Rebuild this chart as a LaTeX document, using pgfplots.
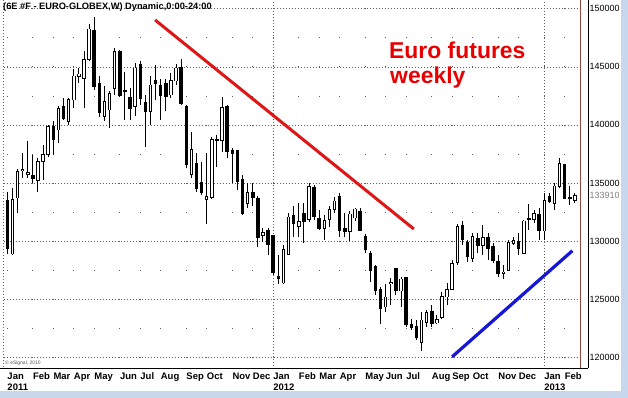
\documentclass[border=0pt]{standalone}
\usepackage{pgfplots}
\pgfplotsset{compat=1.18}
\usepackage{pgfplotstable}
\usepackage{fontspec}
\setmainfont{Liberation Sans}
\definecolor{gridc}{RGB}{95,95,95}
\definecolor{trendred}{RGB}{222,22,22}
\definecolor{textred}{RGB}{232,0,0}
\definecolor{trendblue}{RGB}{22,22,215}
\definecolor{frameblue}{RGB}{200,216,236}
\definecolor{brownline}{RGB}{150,70,60}

\pgfplotstableread{
i o h l c
0 133450 134260 128930 129360
1 128930 134550 128790 133540
2 133740 136220 132390 135930
3 136050 137570 135410 136150
4 135750 138580 135410 135850
5 135640 137430 134980 135410
6 135270 137140 134260 136850
7 136910 138290 135270 137430
8 137480 139960 137200 139840
9 139870 140310 137370 138780
10 139590 141600 138430 141400
11 141600 142320 140450 140590
12 140310 142320 140020 142180
13 142180 144770 141460 144190
14 144200 144910 143620 144350
15 144050 146350 141460 145580
16 145630 148660 145490 148230
17 148140 149290 143040 143330
18 143530 144250 140650 141110
19 140740 143330 140360 141980
20 141310 142960 139730 142670
21 143190 146640 142610 146300
22 146290 146440 142420 142560
23 142950 144570 140410 142880
24 142375 143180 140440 141450
25 141600 145300 140730 144860
26 145140 145490 141740 142320
27 141880 142610 138130 141160
28 141160 144190 140010 143410
29 143820 145140 142170 143560
30 143410 143990 140440 142550
31 143530 143990 141160 142460
32 142610 144480 142320 143820
33 143820 145200 143470 144860
34 144910 145630 141740 141880
35 141600 141740 136260 136600
36 135740 139370 135390 137850
37 136690 137560 134240 134580
38 135050 136840 133950 134180
39 133600 137560 131500 133810
40 133810 139000 133660 138710
41 138710 139140 136400 138650
42 138710 142370 137700 141450
43 141540 141740 137120 137760
44 137760 137990 134960 137560
45 137780 137840 134400 135110
46 135290 135720 132250 132400
47 133270 135000 132830 134130
48 134130 135000 132980 133790
49 133610 133840 129450 130290
50 130490 131100 129940 130720
51 130900 131100 128790 129740
52 130430 130520 127050 127340
53 126970 128790 126330 126760
54 126420 129650 126330 129220
55 128870 132400 128790 132050
56 132200 132980 130380 131530
57 131300 133320 130320 131680
58 132400 133270 129800 131680
59 131910 135000 131680 134650
60 134600 134860 131820 132110
61 131970 132690 130950 131100
62 131100 132260 130090 131730
63 131880 133030 131240 132690
64 132750 133790 132460 133410
65 133840 134130 130380 130950
66 131040 132400 130320 130870
67 130860 132600 129990 132310
68 132020 132890 131730 132740
69 132510 132890 130860 130950
70 130370 130570 128980 129270
71 128920 129120 126520 127470
72 127820 127970 125360 125790
73 125790 126080 122900 124200
74 124350 126320 123910 125160
75 126330 126810 124490 126410
76 127590 127680 125360 125790
77 125740 126950 124350 126720
78 126810 126950 122610 122840
79 122810 123330 122380 122550
80 122610 123190 121450 121680
81 121310 123910 120560 123190
82 123040 124060 122610 123830
83 123910 124490 122610 122960
84 122990 123620 122900 123250
85 123480 125650 123330 125210
86 125210 126370 124490 125790
87 125850 128400 125790 128050
88 128170 131440 127970 131240
89 131350 131730 129700 130140
90 129870 130100 128230 128660
91 128520 130680 128230 130390
92 130250 130680 128950 129670
93 129670 131400 128810 130310
94 130310 130680 128380 129380
95 129530 129820 128150 128320
96 128230 128810 126940 127220
97 127220 127940 126710 127310
98 127510 130100 127460 129870
99 129820 130390 129670 130050
100 129960 130680 128810 129380
101 128950 131830 128890 131690
102 131950 133210 130970 131890
103 131890 132700 131540 132350
104 132260 132840 130100 130910
105 130910 134140 130100 133470
106 133790 134140 133270 133420
107 133270 135000 132700 134710
108 134710 137160 134570 136670
109 136580 136670 133620 133700
110 133700 134710 133130 133680
111 133500 134140 133270 133910
}\candles

\begin{document}
\begin{tikzpicture}
\useasboundingbox (0,0) rectangle (628bp,-398bp);
\fill[white] (0,0) rectangle (628bp,-398bp);
\fill[frameblue] (621bp,0) rectangle (628bp,-398bp);
\fill[frameblue] (0,-391bp) rectangle (628bp,-398bp);
\begin{axis}[
  at={(3.5bp,0bp)}, anchor=north west,
  scale only axis, width=576.5bp, height=368.3bp,
  xmin=-0.743, xmax=111.99, ymin=119053, ymax=150749,
  axis line style={draw=none},
  major tick length=0pt, minor tick length=0pt,
  ytick={120000,125000,130000,135000,140000,145000,150000},
  yticklabel pos=right,
  scaled y ticks=false,
  /pgf/number format/fixed,
  /pgf/number format/precision=0,
  /pgf/number format/1000 sep={},
  /pgf/number format/assume math mode=true,
  yticklabel style={anchor=west, inner sep=0pt, xshift=9.5bp, font=\fontsize{9}{10}\selectfont},
  extra y ticks={133910},
  extra y tick style={grid=none, yticklabel style={text=gray}},
  xtick={0,5,9,13,17,22,26,30,35,39,44,48,52,57,61,65,70,74,78,83,87,91,96,100,105,109},
  xticklabels={Jan,Feb,Mar,Apr,May,Jun,Jul,Aug,Sep,Oct,Nov,Dec,Jan,Feb,Mar,Apr,May,Jun,Jul,Aug,Sep,Oct,Nov,Dec,Jan,Feb},
  xticklabel style={anchor=base west, inner sep=0pt, yshift=-10.7bp, font=\bfseries\fontsize{9.5}{10}\selectfont},
  extra x ticks={0,52,105},
  extra x tick labels={2011,2012,2013},
  extra x tick style={grid=none, xticklabel style={yshift=-11bp}},
  xmajorgrids, ymajorgrids,
  every axis x grid/.style={draw=gridc, line width=0.9bp, dash pattern=on 0.9bp off 28.15bp, dash phase=18.6bp},
  every axis y grid/.style={draw=gridc, line width=0.6bp, dash pattern=on 0.6bp off 2.4bp},
]
% Jan separators
\addplot[gridc, line width=0.6bp, dash pattern=on 0.6bp off 2.4bp, forget plot] coordinates {(52,119053) (52,150749)};
\addplot[gridc, line width=0.6bp, dash pattern=on 0.6bp off 2.4bp, forget plot] coordinates {(105,119053) (105,150749)};
% wicks
\addplot[draw=none, mark=none, forget plot,
  error bars/.cd, y dir=plus, y explicit, error mark=none,
  error bar style={draw=black, line width=1bp}]
  table[x=i, y=l, y error plus expr={\thisrow{h}-\thisrow{l}}] {\candles};
% bodies (outline)
\addplot[draw=none, mark=none, forget plot,
  error bars/.cd, y dir=plus, y explicit, error mark=none,
  error bar style={draw=black, line width=3.5bp}]
  table[x=i, y expr={min(\thisrow{o},\thisrow{c})-60}, y error plus expr={abs(\thisrow{c}-\thisrow{o})+120}] {\candles};
% hollow interior of up candles
\addplot[draw=none, mark=none, forget plot,
  error bars/.cd, y dir=plus, y explicit, error mark=none,
  error bar style={draw=white, line width=1.5bp}]
  table[x=i, y=o, y error plus expr={max(\thisrow{c}-\thisrow{o},0)}] {\candles};
% trend lines
\addplot[trendred, line width=3bp] coordinates {(28.9,149030) (79.5,131040)};
\addplot[trendblue, line width=3.2bp] coordinates {(87.0,120050) (110.5,129170)};
\end{axis}
\draw[black, line width=0.8bp] (0,-368.3bp) -- (588bp,-368.3bp);
\draw[black, line width=0.8bp] (588bp,0) -- (588bp,-368.3bp);
\draw[brownline, line width=0.8bp] (580bp,0) -- (580bp,-368.3bp);
\draw[gridc, dash pattern=on 0.6bp off 2.4bp, line width=0.6bp] (3.5bp,0) -- (3.5bp,-368.3bp);
\node[anchor=base west, inner sep=0pt, font=\bfseries\fontsize{9.3}{10}\selectfont] at (3bp,-9.5bp) {(6E \#F - EURO-GLOBEX,W) Dynamic,0:00-24:00};
\node[anchor=base west, inner sep=0pt, text=textred, font=\bfseries\fontsize{23}{24}\selectfont] at (389bp,-58.5bp) {Euro futures};
\node[anchor=base west, inner sep=0pt, text=textred, font=\bfseries\fontsize{23}{24}\selectfont] at (390bp,-83.3bp) {weekly};
\node[anchor=base west, inner sep=0pt, text=gray!70!black, font=\fontsize{5}{6}\selectfont] at (5bp,-364.5bp) {© eSignal, 2010};
\end{tikzpicture}
\end{document}
